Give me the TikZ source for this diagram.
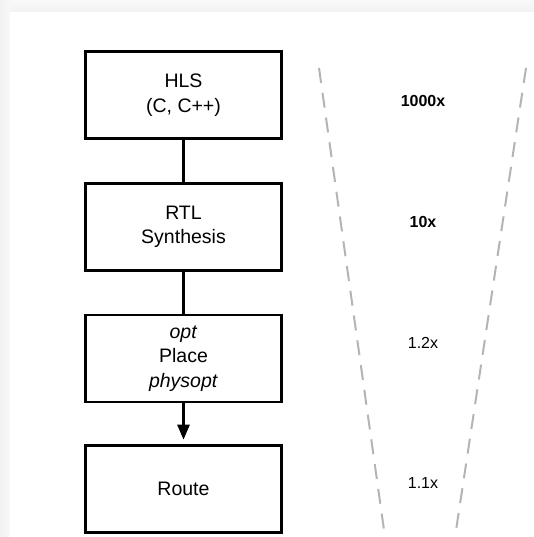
\documentclass[tikz,border=0pt]{standalone}
\usepackage{fontspec}
\setmainfont{Liberation Sans}
\usetikzlibrary{arrows.meta}
\definecolor{guide}{HTML}{B4B4B4}
\tikzset{
  stage/.style={draw=black, line width=2.6pt, fill=white, minimum width=196.5pt,
    minimum height=87pt, align=center, inner sep=0pt,
    font=\fontsize{19.5}{24.5}\selectfont},
  link/.style={draw=black, line width=2.6pt},
  factor/.style={font=\fontsize{16}{19}\selectfont, inner sep=0pt},
  guideline/.style={draw=guide, line width=2pt, dash pattern=on 15pt off 10pt}
}
\begin{document}
\begin{tikzpicture}[x=1pt, y=-1pt]
  \useasboundingbox (0,0) rectangle (534,537);
  % page frame with soft shadow along the top and left edges
  \fill[gray!8] (0,0) rectangle (534,537);
  \shade[left color=gray!11, right color=gray!5] (0,0) rectangle (10,537);
  \shade[top color=gray!5, bottom color=gray!10] (10,0) rectangle (534,12);
  \fill[white] (10,12) rectangle (534,537);

  % flow stages
  \node[stage] (hls)   at (183.5,95)    {HLS\\(C, C++)};
  \node[stage] (rtl)   at (183.5,227)   {RTL\\Synthesis};
  \node[stage] (place) at (183.5,358.5) {\textit{opt}\\Place\\\textit{physopt}};
  \node[stage] (route) at (183.5,489)   {Route};

  \draw[link] (hls.south) -- (rtl.north);
  \draw[link] (rtl.south) -- (place.north);
  \draw[link, -{Triangle[width=12pt, length=15pt]}, shorten >=4.5pt]
    (place.south) -- (route.north);

  % narrowing funnel of dashed guides
  \coordinate (ltop) at (319,68);
  \coordinate (lbot) at (385,537);
  \coordinate (rtop) at (526,68);
  \coordinate (rbot) at (455,537);
  \draw[guideline] (ltop) -- (lbot);
  \draw[guideline] (rtop) -- (rbot);

  % speed-up factors
  \node[factor] (f1) at (423,101)   {\textbf{1000x}};
  \node[factor] (f2) at (423,222)   {\textbf{10x}};
  \node[factor] (f3) at (423,342.5) {1.2x};
  \node[factor] (f4) at (423,483)   {1.1x};
\end{tikzpicture}
\end{document}
